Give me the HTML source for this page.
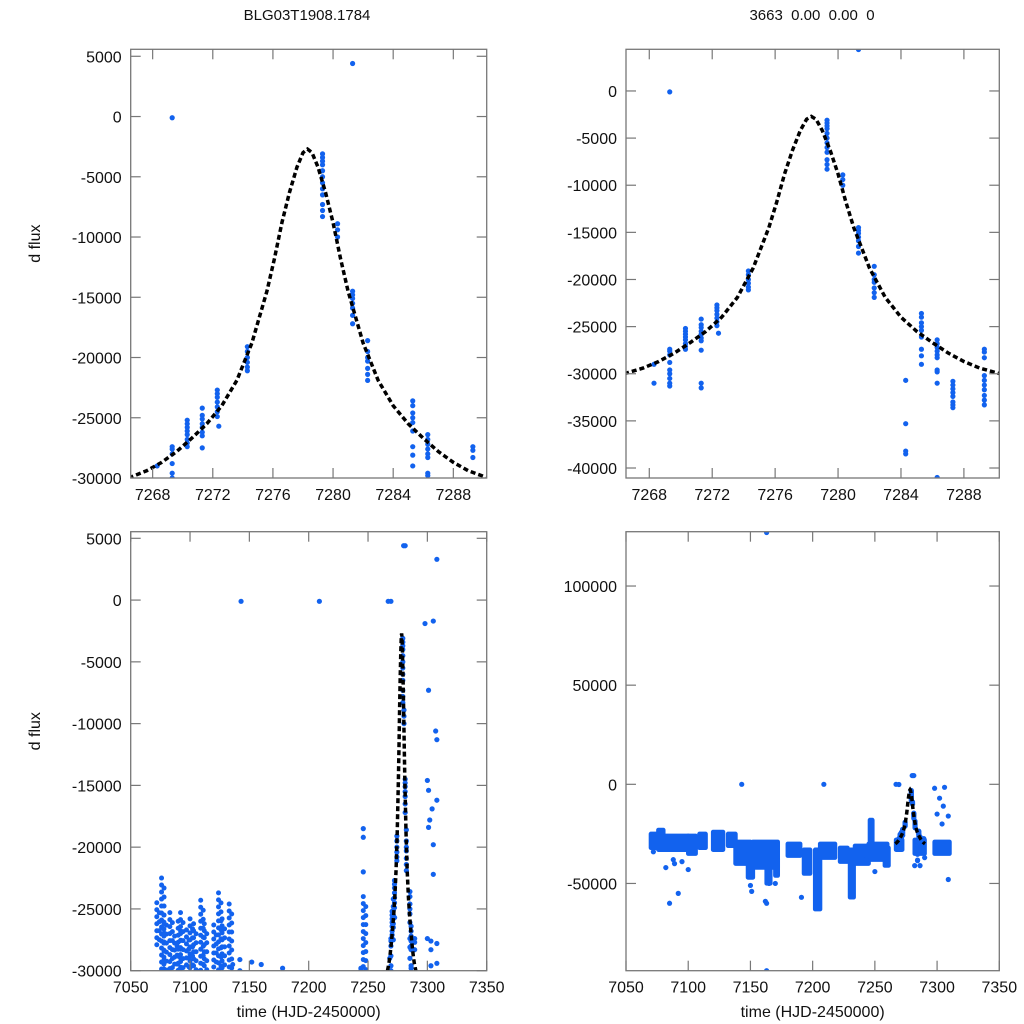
<!DOCTYPE html>
<html><head><meta charset="utf-8"><style>
html,body{margin:0;padding:0;background:#fff;overflow:hidden;width:1024px;height:1024px;}
svg{display:block;}
svg text{font-family:"Liberation Sans",Arial,sans-serif;fill:#111;}
</style></head><body>
<svg id="chart" width="1024" height="1024" viewBox="0 0 1024 1024" xmlns="http://www.w3.org/2000/svg">
<rect width="1024" height="1024" fill="#fff"/>
<text x="307" y="20" font-size="15" text-anchor="middle">BLG03T1908.1784</text>
<text x="812" y="20" font-size="15" text-anchor="middle" xml:space="preserve">3663  0.00  0.00  0</text>
</svg>
<script>
// ---- data ----
const zoomT = [7268.3,7268.3,7269.3,7269.3,7269.3,7269.3,7269.3,7269.3,7269.3,7269.3,7269.3,7269.3,
 7270.3,7270.3,7270.3,7270.3,7270.3,7270.3,7270.3,7270.3,
 7271.3,7271.3,7271.3,7271.3,7271.3,7271.3,7271.3,7271.3,7271.3,7271.3,
 7272.3,7272.3,7272.3,7272.3,7272.3,7272.3,7272.3,7272.4,
 7274.3,7274.3,7274.3,7274.3,7274.3,7274.3,
 7279.3,7279.3,7279.3,7279.3,7279.3,7279.3,7279.3,7279.3,7279.3,7279.3,7279.3,7279.3,
 7280.3,7280.3,7280.3,
 7281.3,7281.3,7281.3,7281.3,7281.3,7281.3,7281.3,7281.3,
 7282.3,7282.3,7282.3,7282.3,7282.3,7282.3,7282.3,
 7284.3,7284.3,7284.3,7284.3,
 7285.3,7285.3,7285.3,7285.3,7285.3,7285.3,7285.3,7285.3,7285.3,
 7286.3,7286.3,7286.3,7286.3,7286.3,7286.3,7286.3,7286.3,7286.3,7286.3,
 7287.3,7287.3,7287.3,7287.3,7287.3,7287.3,7287.3,7287.3,
 7289.3,7289.3,7289.3,7289.3,7289.3,7289.3,7289.3,7289.3,7289.3,7289.3];
const zoomF = [-29000,-31000,-100,-27400,-27600,-28000,-28800,-29600,-30000,-30500,-31000,-31300,
 -25200,-25500,-25800,-26100,-26400,-26800,-27100,-27400,
 -24200,-24800,-25100,-25500,-25800,-26200,-26500,-27500,-31000,-31500,
 -22700,-23000,-23300,-23700,-24100,-24500,-24900,-25700,
 -19100,-19500,-20000,-20400,-20800,-21100,
 -3100,-3400,-3700,-4000,-4500,-5000,-5500,-6000,-6500,-7300,-7800,-8300,
 -8900,-9400,-10000,
 4400,-14500,-14800,-15100,-15500,-15900,-16500,-17200,
 -18600,-19500,-20000,-20300,-20900,-21400,-21900,
 -30700,-35300,-38200,-38500,
 -23600,-24000,-24600,-25000,-25400,-26100,-27400,-28100,-29000,
 -26400,-26800,-27200,-27600,-28000,-28300,-29600,-29800,-31000,-41000,
 -30800,-31200,-31600,-32000,-32400,-33000,-33300,-33600,
 -27400,-27700,-28300,-30200,-30700,-31200,-31700,-32300,-32800,-33300];
// model curve samples
const modelT = [7266.4,7267.6,7268.6,7269.6,7270.6,7271.6,7272.6,7273.6,7274.6,7275.6,7276.1,7276.6,7277.1,7277.6,7278.0,7278.3,7278.6,7279.0,7279.5,7280.0,7280.5,7281.0,7282.0,7283.0,7284.0,7285.0,7286.0,7287.0,7288.0,7289.0,7290.3];
const modelF = [-30000,-29400,-28700,-27800,-26700,-25500,-24000,-21900,-18800,-14500,-11800,-8800,-6300,-4200,-3000,-2700,-3000,-4200,-6300,-8800,-11800,-14500,-18800,-21900,-24000,-25500,-26700,-27800,-28700,-29400,-30000];
// extra full-season points
const fullT = [7143,7209,7267,7280,7308,7298,7305,7301,7307,7308,7300,7301,7308,7304,7302,7301,7305,7305,7246,7246,7246,7300,7303,7308,7303,7142,7142,7152,7160,7178,7244,7244,7303,7308];
const fullF = [-100,-100,-100,4400,3300,-1900,-1700,-7300,-10600,-11300,-14600,-15400,-16200,-16900,-17800,-18400,-19800,-22200,-18500,-19200,-22000,-27400,-27600,-27800,-28300,-29100,-30000,-29300,-29500,-29800,-29800,-30000,-29600,-29400];
// dense columns (bottom-left)
const colT = [7072,7076,7078,7083,7087,7090,7092,7097,7100,7103,7109,7112,7120,7124,7127,7133,7136,7246];
const colTop = [-24500,-22500,-25500,-25300,-27200,-26000,-25300,-26700,-25800,-26200,-24300,-26200,-26300,-23700,-25800,-24600,-29500,-24000];
const colBot = [-28000,-30000,-30000,-30000,-30000,-30000,-30000,-30000,-30000,-30000,-30000,-30000,-30000,-30000,-30000,-30000,-30000,-30000];
// dense bands (bottom-right)
const bandT0 = [7070,7076,7080,7100,7109,7120,7132,7138,7148,7152,7163,7170,7180,7193,7202,7206,7222,7230,7234,7246,7245,7258,7267,7282,7298];
const bandT1 = [7075,7080,7100,7106,7114,7128,7138,7150,7152,7172,7166,7172,7190,7198,7206,7218,7228,7233,7245,7248,7260,7261,7272,7290,7310];
const bandTop = [-25000,-23000,-26000,-26000,-25000,-24000,-25000,-29000,-35000,-29000,-35000,-38000,-30000,-33000,-33000,-30000,-32000,-33000,-31000,-18000,-30000,-32000,-28000,-28000,-29000];
const bandBot = [-32000,-33000,-33000,-35000,-32000,-33000,-31000,-40000,-47000,-42000,-50000,-46000,-36000,-45000,-63000,-37000,-39000,-57000,-40000,-35000,-38000,-41000,-33000,-35000,-35000];
const outT = [7072,7082,7085,7088,7089,7092,7095,7100,7143,7150,7151,7162,7163,7163,7163,7165,7170,7191,7209,7250,7243,7282,7290,7309,7302,7305,7300,7309,7280,7267,7298,7306,7304];
const outF = [-34000,-42000,-60000,-38000,-40000,-55000,-39000,-43000,0,-51000,-54000,-59000,-60000,127000,-94000,-50000,-50000,-57000,0,-44000,-38000,-41000,-37000,-48000,-7000,-11000,-15000,-16000,4400,0,-2000,-1500,-20000];
const ticksTopX = [7268,7272,7276,7280,7284,7288];
const ticksBotX = [7050,7100,7150,7200,7250,7300,7350];
const ticksA = [5000,0,-5000,-10000,-15000,-20000,-25000,-30000];
const ticksB = [0,-5000,-10000,-15000,-20000,-25000,-30000,-35000,-40000];
const ticksC = [100000,50000,0,-50000];

const NS = 'http://www.w3.org/2000/svg';
const svg = document.getElementById('chart');
const BLUE = '#1262ee';
function mk(tag, attrs, parent){ const e=document.createElementNS(NS,tag); for(const k in attrs) e.setAttribute(k,attrs[k]); (parent||svg).appendChild(e); return e; }

function panel(id, box, xd, yd, xt, yt, xlabel, ylabel){
  const sx = v => box.x + (v-xd[0])/(xd[1]-xd[0])*box.w;
  const sy = v => box.y + (yd[1]-v)/(yd[1]-yd[0])*box.h;
  const g = mk('g', {});
  
  
  const cp = mk('clipPath', {id:'clip-'+id}, g);
  mk('rect', {x:box.x, y:box.y, width:box.w, height:box.h}, cp);
  const plot = mk('g', {'clip-path':'url(#clip-'+id+')'}, g);
  
  
  const fr = mk('rect', {x:box.x, y:box.y, width:box.w, height:box.h, fill:'none', stroke:'#777', 'stroke-width':1.3}, g);
  
  
  xt.forEach(v=>{
    const x=sx(v);
    if(x>=box.x-0.5 && x<=box.x+box.w+0.5){
      mk('line',{x1:x,y1:box.y+box.h,x2:x,y2:box.y+box.h-10,stroke:'#777','stroke-width':1.2},g);
      mk('line',{x1:x,y1:box.y,x2:x,y2:box.y+10,stroke:'#777','stroke-width':1.2},g);
    }
    const t = mk('text',{x:x,y:box.y+box.h+22,'font-size':16,'text-anchor':'middle'},g);
    t.textContent = v;
    
    
  });
  yt.forEach(v=>{
    const y=sy(v);
    mk('line',{x1:box.x,y1:y,x2:box.x+10,y2:y,stroke:'#777','stroke-width':1.2},g);
    mk('line',{x1:box.x+box.w,y1:y,x2:box.x+box.w-10,y2:y,stroke:'#777','stroke-width':1.2},g);
    const t = mk('text',{x:box.x-9,y:y+6,'font-size':16,'text-anchor':'end'},g);
    t.textContent = v;
    
    
  });
  if(xlabel){
    const t = mk('text',{x:box.x+box.w/2,y:1017,'font-size':16,'text-anchor':'middle'},g);
    t.textContent = xlabel;
    
    
  }
  if(ylabel){
    const cy = box.y+box.h/2 - 20;
    const t = mk('text',{x:40,y:cy,'font-size':16,'text-anchor':'middle',transform:'rotate(-90 40 '+cy+')'},g);
    t.textContent = ylabel;
    
    
  }
  return {sx, sy, plot};
}
function dots(p, T, F){
  for(let i=0;i<T.length;i++){
    const c = mk('circle',{cx:p.sx(T[i]),cy:p.sy(F[i]),r:2.6,fill:BLUE},p.plot);
    
    
  }
}
function model(p){
  let d='';
  for(let i=0;i<modelT.length;i++) d += (i?'L':'M')+p.sx(modelT[i]).toFixed(2)+','+p.sy(modelF[i]).toFixed(2);
  const path = mk('path',{d:d,fill:'none',stroke:'#000','stroke-width':3.5,'stroke-dasharray':'5,3'},p.plot);
  
  
}
function columns(p){
  for(let i=0;i<colT.length;i++){
    const x=p.sx(colT[i]), y1=p.sy(colTop[i]), y2=p.sy(colBot[i]);
    const l = mk('line',{x1:x,y1:y1,x2:x,y2:y2,stroke:BLUE,'stroke-width':5,'stroke-linecap':'round','stroke-dasharray':'0,7'},p.plot);
    
    
    const l2 = mk('line',{x1:x+2.5,y1:y1+10,x2:x+2.5,y2:y2,stroke:BLUE,'stroke-width':5,'stroke-linecap':'round','stroke-dasharray':'0,9'},p.plot);
    
    
  }
}
function bands(p){
  for(let i=0;i<bandT0.length;i++){
    const x1=p.sx(bandT0[i]), x2=p.sx(bandT1[i]), y1=p.sy(bandTop[i]), y2=p.sy(bandBot[i]);
    const r = mk('rect',{x:x1-2.2,y:y1-2.2,width:x2-x1+4.4,height:y2-y1+4.4,rx:2.2,fill:BLUE},p.plot);
    
    
  }
}
const pTL = panel('top-left-panel',{x:130.7,y:49.3,w:356,h:428.7},[7266.54,7290.22],[-30000,5580],ticksTopX,ticksA,null,'d flux');
dots(pTL, zoomT, zoomF); model(pTL);
const pTR = panel('top-right-panel',{x:626,y:49.3,w:373.3,h:428.7},[7266.52,7290.25],[-41060,4420],ticksTopX,ticksB,null,null);
dots(pTR, zoomT, zoomF); model(pTR);
const pBL = panel('bottom-left-panel',{x:130.7,y:531.7,w:356,h:439},[7050,7350],[-30000,5535],ticksBotX,ticksA,'time (HJD-2450000)','d flux');
columns(pBL); dots(pBL, fullT, fullF); dots(pBL, zoomT, zoomF); model(pBL);
const pBR = panel('bottom-right-panel',{x:626,y:531.7,w:373.3,h:439},[7050,7350],[-94000,127400],ticksBotX,ticksC,'time (HJD-2450000)',null);
bands(pBR); dots(pBR, outT, outF); dots(pBR, zoomT, zoomF); model(pBR);
</script>
</body></html>
